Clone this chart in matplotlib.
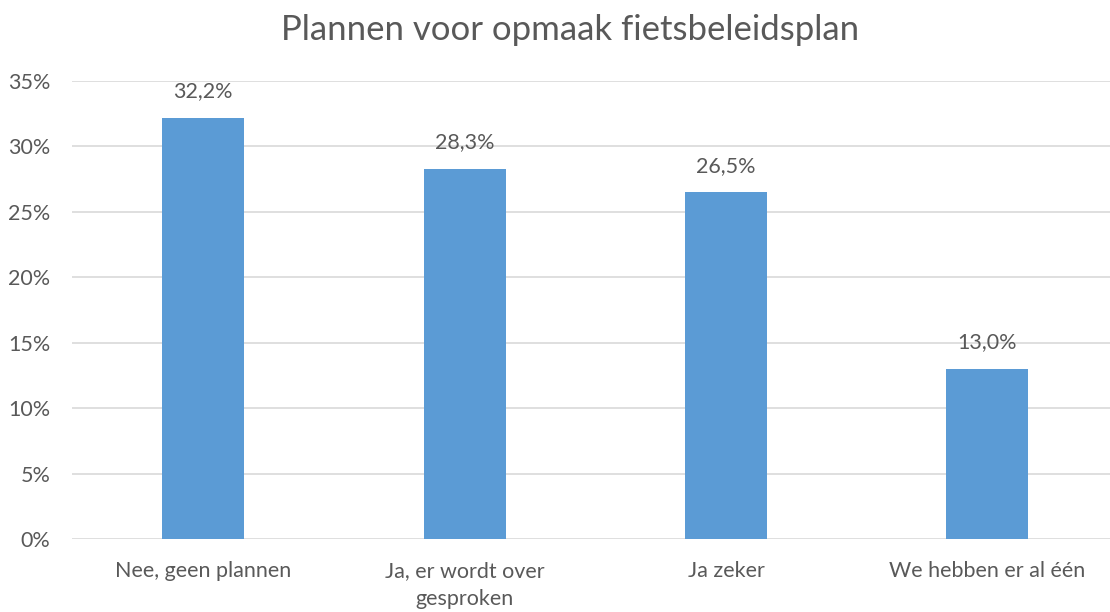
import numpy as np
import matplotlib.pyplot as plt
from matplotlib.ticker import FuncFormatter

# Chart data
categories = ["Nee, geen plannen", "Ja, er wordt over\ngesproken", "Ja zeker", "We hebben er al één"]
values = [32.2, 28.3, 26.5, 13.0]
y_ticks = [0, 5, 10, 15, 20, 25, 30, 35]

plt.rcParams['font.family'] = ['Lato', 'DejaVu Sans']
text_color = '#595959'

fig = plt.figure(figsize=(11.1, 6.12), dpi=100)
ax = fig.add_axes([0.0653, 0.1193, 0.942, 0.7484])

x = np.arange(len(categories))
bars = ax.bar(x, values, width=0.314, color='#5B9BD5', zorder=3)

ax.set_xlim(-0.5, len(categories) - 0.5)
ax.set_ylim(0, 35)
ax.set_yticks(y_ticks)
ax.yaxis.set_major_formatter(FuncFormatter(lambda v, p: f"{v:.0f}%"))
ax.set_xticks(x)
ax.set_xticklabels(categories, linespacing=1.5)

ax.grid(axis='y', color='#D9D9D9', linewidth=1.2, zorder=0)
for s in ax.spines.values():
    s.set_visible(False)
ax.tick_params(axis='both', length=0, labelsize=15.5, colors=text_color)
ax.tick_params(axis='x', pad=16)
ax.tick_params(axis='y', pad=16)

# data labels
for b, v in zip(bars, values):
    ax.annotate(f"{v:.1f}".replace('.', ',') + "%",
                (b.get_x() + b.get_width() / 2, b.get_height()),
                xytext=(0, 19), textcoords='offset points',
                ha='center', va='center', fontsize=15.5, color=text_color)

fig.text(0.514, 1 - 30 / 612, "Plannen voor opmaak fietsbeleidsplan",
         ha='center', va='center', fontsize=25, color=text_color)

fig.savefig("out.png", dpi=100)
